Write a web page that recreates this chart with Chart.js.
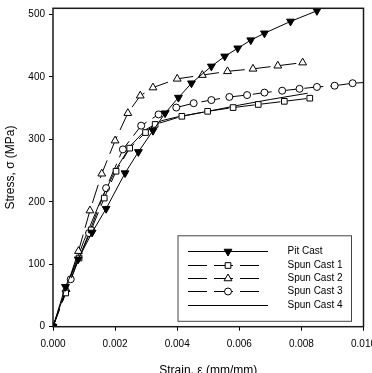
<!DOCTYPE html>
<html>
<head>
<meta charset="utf-8">
<script src="https://cdn.jsdelivr.net/npm/chart.js@4/dist/chart.umd.min.js"></script>
<style>
  html, body { margin: 0; padding: 0; background: #fff; }
  #wrap { width: 372px; height: 373px; }
</style>
</head>
<body>
<div id="wrap"><canvas id="chart" width="372" height="373"></canvas></div>
<script>
// valores (deformación en mm/mm, tensión en MPa)
const pitStrain = [0, 0.00040, 0.00081, 0.00126, 0.00171, 0.00232, 0.00275, 0.00322, 0.00361, 0.00404, 0.00446, 0.00510, 0.00553, 0.00595, 0.00637, 0.00681, 0.00765, 0.00850];
const pitStress = [0, 64, 108, 151, 189, 246, 280, 314, 342, 367, 390, 417, 433, 446, 459, 470, 489, 506];

const spun1Strain = [0, 0.00041, 0.00084, 0.00123, 0.00165, 0.00203, 0.00247, 0.00298, 0.00329, 0.00415, 0.00498, 0.00580, 0.00661, 0.00745, 0.00827];
const spun1Stress = [0, 54, 110, 155, 206, 249, 286, 311, 324, 337, 345, 351, 356, 361, 366];

const spun2Strain = [0, 0.00042, 0.00082, 0.00119, 0.00157, 0.00200, 0.00241, 0.00281, 0.00322, 0.00400, 0.00481, 0.00562, 0.00644, 0.00724, 0.00804];
const spun2Stress = [0, 60, 121, 186, 245, 298, 342, 370, 383, 397, 403, 409, 413, 418, 423];

const spun3Strain = [0, 0.00057, 0.00116, 0.00171, 0.00225, 0.00284, 0.00340, 0.00397, 0.00453, 0.00510, 0.00568, 0.00625, 0.00681, 0.00738, 0.00794, 0.00850, 0.00907, 0.00965, 0.01030];
const spun3Stress = [0, 76, 150, 222, 284, 322, 340, 351, 358, 363, 368, 371, 375, 378, 381, 384, 386, 390, 392];

const spun4Strain = [0, 0.0005, 0.0010, 0.0015, 0.0020, 0.0025, 0.0030, 0.0035, 0.0040, 0.0050, 0.0060, 0.0070, 0.0082];
const spun4Stress = [0, 72, 138, 198, 250, 290, 316, 330, 336, 345, 355, 364, 374];

const seriesNames = ['Pit Cast', 'Spun Cast 1', 'Spun Cast 2', 'Spun Cast 3', 'Spun Cast 4'];
const xTicks = [0, 0.002, 0.004, 0.006, 0.008, 0.010];
const yTicks = [0, 100, 200, 300, 400, 500];

const FONT = 'Arial, "Liberation Sans", sans-serif';
const DASH = [19, 7];

function pts(xs, ys) {
  return xs.map((x, i) => ({ x: x, y: ys[i] }));
}

const datasets = [
  { label: seriesNames[0], data: pts(pitStrain, pitStress), pointStyle: 'triangle', rotation: 180,
    pointRadius: 4.5, backgroundColor: '#000', borderDash: [] },
  { label: seriesNames[1], data: pts(spun1Strain, spun1Stress), pointStyle: 'rect',
    pointRadius: 4, backgroundColor: '#fff', borderDash: DASH },
  { label: seriesNames[2], data: pts(spun2Strain, spun2Stress), pointStyle: 'triangle',
    pointRadius: 4.5, backgroundColor: '#fff', borderDash: DASH },
  { label: seriesNames[3], data: pts(spun3Strain, spun3Stress), pointStyle: 'circle',
    pointRadius: 3.5, backgroundColor: '#fff', borderDash: DASH },
  { label: seriesNames[4], data: pts(spun4Strain, spun4Stress), pointStyle: false,
    pointRadius: 0, backgroundColor: '#000', borderDash: [] }
].map(d => Object.assign(d, {
  borderColor: '#000',
  borderWidth: 1,
  pointBorderColor: '#000',
  pointBackgroundColor: d.backgroundColor,
  pointBorderWidth: 1,
  pointHoverRadius: d.pointRadius,
  tension: 0,
  fill: false
}));

// marco alrededor del área y leyenda dibujada a mano
const framePlugin = {
  id: 'frame',
  afterDraw(chart) {
    const ctx = chart.ctx;
    const ca = chart.chartArea;
    ctx.save();
    ctx.strokeStyle = '#1a1a1a';
    ctx.lineWidth = 1.5;
    ctx.strokeRect(ca.left, ca.top, ca.right - ca.left, ca.bottom - ca.top);

    // leyenda
    const bx = ca.left + 124.5, by = ca.top + 227, bw = 173.5, bh = 85.5;
    ctx.fillStyle = '#fff';
    ctx.fillRect(bx, by, bw, bh);
    ctx.lineWidth = 1;
    ctx.strokeStyle = '#444';
    ctx.strokeRect(bx + 0.5, by + 0.5, bw, bh);

    ctx.font = '10px ' + FONT;
    ctx.textBaseline = 'middle';
    ctx.textAlign = 'left';
    chart.data.datasets.forEach((ds, i) => {
      const y = Math.round(by + 16 + i * 13.3) + 0.5;
      const x0 = bx + 10.5;
      const dashed = ds.borderDash && ds.borderDash.length;
      const x1 = dashed ? x0 + 72 : x0 + 80;
      ctx.strokeStyle = '#000';
      ctx.lineWidth = 1;
      ctx.setLineDash(dashed ? ds.borderDash : []);
      ctx.beginPath();
      ctx.moveTo(x0, y);
      ctx.lineTo(x1, y);
      ctx.stroke();
      ctx.setLineDash([]);
      if (ds.pointStyle) {
        ctx.fillStyle = ds.pointBackgroundColor;
        Chart.helpers.drawPoint(ctx, {
          pointStyle: ds.pointStyle,
          rotation: ds.rotation || 0,
          radius: ds.pointRadius,
          borderWidth: 1
        }, x0 + 40, y);
      }
      ctx.fillStyle = '#000';
      ctx.fillText(ds.label, bx + 110, y);
    });
    ctx.restore();
  }
};

new Chart(document.getElementById('chart'), {
  type: 'line',
  data: { datasets: datasets },
  options: {
    responsive: false,
    animation: false,
    devicePixelRatio: 1,
    layout: { padding: { left: 0, top: 8.3, right: 8.5, bottom: 0 } },
    plugins: { legend: { display: false }, tooltip: { enabled: false } },
    scales: {
      x: {
        type: 'linear',
        min: 0,
        max: 0.01,
        afterFit(scale) {
          scale.height = 46.3;
          scale.paddingLeft = 0;
          scale.paddingRight = 0;
        },
        afterBuildTicks(scale) { scale.ticks = xTicks.map(v => ({ value: v })); },
        ticks: {
          color: '#000',
          font: { family: FONT, size: 10 },
          padding: 8,
          maxRotation: 0,
          autoSkip: false,
          callback: v => v.toFixed(3)
        },
        grid: { display: true, drawOnChartArea: false, drawTicks: true, tickLength: 4, color: '#000' },
        border: { display: false },
        title: {
          display: true,
          text: 'Strain, ε (mm/mm)',
          color: '#000',
          font: { family: FONT, size: 12 },
          padding: { top: 0, bottom: -5 }
        }
      },
      y: {
        type: 'linear',
        min: 0,
        max: 510,
        afterFit(scale) {
          scale.width = 53;
          scale.paddingTop = 0;
          scale.paddingBottom = 0;
        },
        afterBuildTicks(scale) { scale.ticks = yTicks.map(v => ({ value: v })); },
        ticks: {
          color: '#000',
          font: { family: FONT, size: 10 },
          padding: 4
        },
        grid: { display: true, drawOnChartArea: false, drawTicks: true, tickLength: 4, color: '#000' },
        border: { display: false },
        title: {
          display: true,
          text: 'Stress, σ (MPa)',
          color: '#000',
          font: { family: FONT, size: 12 },
          padding: { top: 3, bottom: 0 }
        }
      }
    }
  },
  plugins: [framePlugin]
});
</script>
</body>
</html>
